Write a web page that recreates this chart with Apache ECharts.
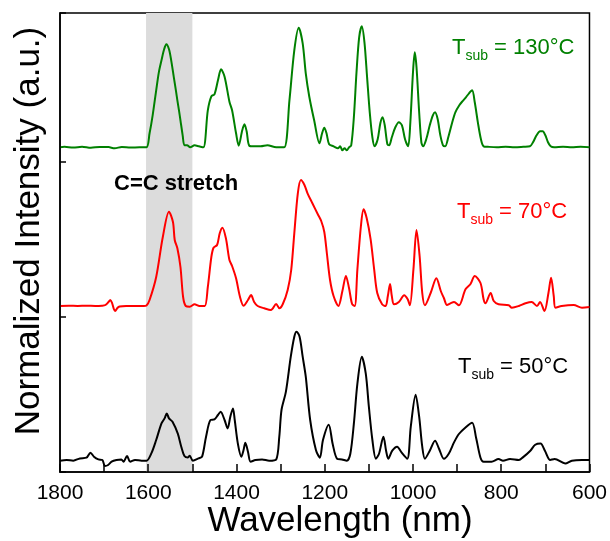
<!DOCTYPE html>
<html>
<head>
<meta charset="utf-8">
<script src="https://cdn.jsdelivr.net/npm/echarts@6/dist/echarts.min.js"></script>
<style>html,body{margin:0;padding:0;background:#fff}#c{width:610px;height:541px}</style>
</head>
<body>
<div id="c"></div>
<script>
// x ticks (nm)
const xTicks = [1800, 1600, 1400, 1200, 1000, 800, 600];
// vertical offsets of each trace (a.u.)
const offsets = {t50: 11.3, t70: 166, t130: 324.7};
// highlighted band (C=C stretch), nm
const bandRange = [1605, 1500];

// ---- T_sub = 130°C (green) ----
const wl130 = [1800,1790,1770,1750,1730,1710,1690,1676,1660,1640,1620,1604,1597,1590,1582,1576,1570,1564,1559,1553,1548,1542,1537,1534,1530,1527,1522,1518,1512,1505,1495,1485,1475,1465,1457,1450,1442,1435,1427,1416,1410,1401,1395,1387,1382,1377,1371,1360,1345,1330,1310,1292,1280,1269,1259,1250,1243,1235,1224,1212,1206,1201,1196,1190,1180,1170,1165,1160,1155,1150,1145,1140,1134,1128,1122,1116,1110,1104,1098,1092,1087,1080,1074,1069,1064,1058,1054,1048,1040,1032,1025,1018,1011,1006,1000,996,992,986,981,977,970,962,955,950,944,938,932,927,920,911,904,895,888,880,873,866,860,853,846,840,830,810,790,770,750,735,728,720,712,706,700,694,688,680,660,640,620,600];
const int130 = [0,0.5,-0.3,0.6,-0.5,0.4,0.2,-1.0,0.3,-0.3,0,0,14,32,57,75,87,98,103,98,87,70,56,47,36,27,12,2,2,0,2,1,0,37,51,53,67,78,70.6,45.6,37,14,1.6,17,23,16,1.6,1,1,2,0,0,47,97,119.6,104,74,50.6,27,4,14,19.6,14,3,1,-1,1,-3,-1,-3,0,2,30,75,110,121,105,70,35,10,1,8,24,30,22,3,2,10,20,25,22,8,1,25,75,95,80,35,5,1,8,22,32,35,28,12,2,1,10,25,35,42,46,50,54,57,45,25,8,1,0.5,0,0.5,0,0.5,1,5,12,16,16,12,5,1,0,0.5,0,0.5,0];

// ---- T_sub = 70°C (red) ----
const wl70 = [1800,1780,1760,1740,1720,1705,1697,1690,1686,1682,1678,1675,1670,1665,1650,1630,1610,1604,1597,1582,1567,1553,1544,1540,1534,1527,1521,1515,1506,1495,1484,1472,1465,1457,1452,1444,1438,1432,1424,1416,1410,1401,1392,1384,1374,1367,1360,1352,1337,1322,1310,1303,1295,1284,1276,1269,1261,1254,1246,1239,1228,1216,1208,1201,1195,1188,1180,1169,1160,1152,1145,1138,1132,1126,1118,1112,1105,1096,1088,1081,1070,1062,1057,1052,1048,1043,1032,1020,1012,1007,999,992,985,979,973,960,947,937,930,923,915,907,896,881,870,860,847,840,836,824,817,806,783,776,760,745,731,719,712,702,693,687,681,677,663,636,617,600];
const int70 = [0,0.3,0,0.3,0,0.3,1,4,6,3,-3,-5,-2,-0.5,0,0,0,0.5,6,29,69,94.3,84,66,57.7,39,9,0,-0.7,1.7,0,0,19,49,58.3,61,72.7,78.3,67.7,46,40,27.7,9,0.3,6,11,4,0,-2.3,-4,2,-2.3,2,16,36,72.7,112.7,126,121,112.7,102.7,92,85,74,52,26,10,0,15,30,18,2,0,36.7,80,96.7,88,66.7,36.7,13,1.7,0,10,22,10,1.7,4,10.7,6.7,0.7,36.7,76,50,13,0.7,13,27.7,15,8,1,2.7,4,0.7,16.7,21.7,30,23,6.7,2.7,13,5,1.7,0.7,-1.7,0,2.7,4,0,4,-5,13,28.3,10,-1.7,0,1,-1.7,-1];

// ---- T_sub = 50°C (black) ----
const wl50 = [1800,1785,1770,1755,1740,1731,1723,1713,1704,1698,1691,1683,1672,1661,1656,1648,1641,1630,1615,1604,1593,1582,1570,1563,1558,1553,1545,1533,1525,1518,1510,1506,1499,1486,1478,1469,1459,1450,1442,1436,1427,1420,1414,1408,1404,1397,1389,1384,1380,1374,1368,1357,1342,1326,1310,1303,1298,1288,1277,1269,1264,1257,1250,1243,1233,1220,1211,1204,1191,1182,1172,1161,1150,1142,1134,1126,1116,1107,1100,1092,1084,1077,1067,1061,1056,1047,1036,1026,1013,1005,994,986,979,973,962,950,941,930,919,907,896,881,866,857,847,840,822,806,796,780,760,751,734,723,711,701,689,679,655,640,617,600];
const int50 = [0,0.7,0,2.3,3,8,4,1.3,0.7,-5.3,-4.3,-1,0.7,1.3,-1,4.7,-1,0.7,0,0,7.3,20.7,37.3,42.3,47.3,42.3,39,27,13.7,4.7,3.3,5,0,2.3,4,24,40.7,41.3,45.7,49,40.7,32.3,44,52.3,40.7,17.3,4,10.7,18,9,-1,0.7,1.3,0,1.3,24,50.7,69,104,124,129,124,104,84,40.7,10.7,3,20.7,36,16.7,2,1.3,0,7,37,77,104,87,54,20.7,2,7,24,10,2,10,14,8.3,2,34,66,44,14,2,10,20,12,2,7,18.3,26.7,33.3,38,23,3,-1,-1,1.7,0,1.7,0.7,3.3,10,16,17.3,10,0.7,1.7,-2.7,0,0.7,0.7];

// label texts
const labelTexts = [
  {t: 'T', sub: 'sub', rest: ' = 130°C', color: '#008000', x: 452, y: 48},
  {t: 'T', sub: 'sub', rest: ' = 70°C', color: '#ff0000', x: 457, y: 212},
  {t: 'T', sub: 'sub', rest: ' = 50°C', color: '#000000', x: 458, y: 367}
];
const bandLabel = 'C=C stretch';
const xTitle = 'Wavelength (nm)';
const yTitle = 'Normalized Intensity (a.u.)';

function pairs(wl, vals, off) { return wl.map((w, i) => [w, off + vals[i]]); }

const chart = echarts.init(document.getElementById('c'), null, {renderer: 'canvas'});
const FONT = 'Liberation Sans, Arial, sans-serif';

const graphics = labelTexts.map(l => ({
  type: 'text', x: l.x, y: l.y, z: 100,
  style: {
    text: '{a|' + l.t + '}{s|' + l.sub + '}{a|' + l.rest + '}',
    verticalAlign: 'middle', align: 'left',
    fill: l.color, fontFamily: FONT,
    rich: {
      a: {fontSize: 22, fill: l.color, fontFamily: FONT},
      s: {fontSize: 14, fill: l.color, fontFamily: FONT, padding: [16, 0, 0, 0]}
    }
  }
}));
graphics.push({
  type: 'text', x: 114, y: 184, z: 100,
  style: {text: bandLabel, fontSize: 22, fontWeight: 'bold', fill: '#000', fontFamily: FONT, verticalAlign: 'middle', align: 'left'}
});
graphics.push({
  type: 'text', x: 340, y: 521, z: 100,
  style: {text: xTitle, fontSize: 35, fill: '#000', fontFamily: FONT, verticalAlign: 'middle', align: 'center'}
});
graphics.push({
  type: 'text', x: 29, y: 231, rotation: Math.PI / 2, z: 100,
  style: {text: yTitle, fontSize: 35, fill: '#000', fontFamily: FONT, verticalAlign: 'middle', align: 'center'}
});

chart.setOption({
  animation: false,
  backgroundColor: '#fff',
  grid: {left: 60, right: 19, top: 13, bottom: 69, show: true, borderColor: '#000', borderWidth: 1.5, backgroundColor: 'transparent'},
  xAxis: {
    type: 'value', inverse: true, min: 600, max: 1800, interval: 100, z: 5,
    axisLine: {lineStyle: {color: '#000', width: 1.5}},
    axisTick: {inside: true, length: 8, lineStyle: {color: '#000', width: 1.5}},
    axisLabel: {fontSize: 21, color: '#000', fontFamily: FONT, margin: 11,
      formatter: v => (xTicks.indexOf(v) >= 0 ? String(v) : '')},
    splitLine: {show: false}
  },
  yAxis: {
    type: 'value', min: 0, max: 459, interval: 155, z: 5,
    axisLine: {lineStyle: {color: '#000', width: 1.5}},
    axisTick: {inside: true, length: 6, lineStyle: {color: '#000', width: 1.5}},
    axisLabel: {show: false},
    splitLine: {show: false}
  },
  graphic: graphics,
  series: [
    {type: 'line', data: [], z: 1, silent: true,
     markArea: {silent: true, itemStyle: {color: '#dcdcdc'},
       data: [[{xAxis: bandRange[0]}, {xAxis: bandRange[1]}]]}},
    {type: 'line', data: pairs(wl50, int50, offsets.t50), showSymbol: false, smooth: 0.3, z: 3,
     lineStyle: {color: '#000', width: 2}},
    {type: 'line', data: pairs(wl70, int70, offsets.t70), showSymbol: false, smooth: 0.3, z: 3,
     lineStyle: {color: '#ff0000', width: 2}},
    {type: 'line', data: pairs(wl130, int130, offsets.t130), showSymbol: false, smooth: 0.3, z: 3,
     lineStyle: {color: '#008000', width: 2}}
  ]
});
</script>
</body>
</html>
